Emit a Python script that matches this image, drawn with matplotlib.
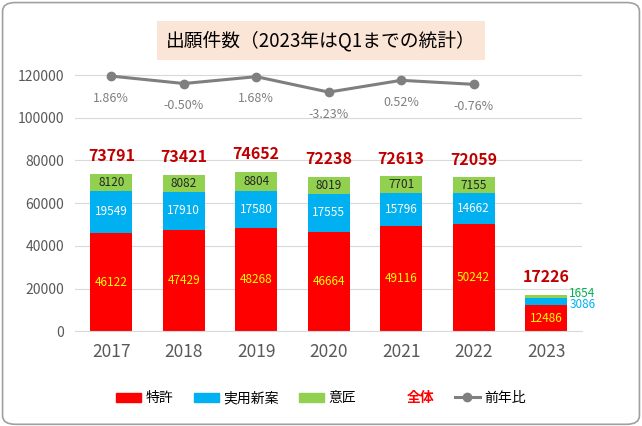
import matplotlib
matplotlib.use("Agg")
import matplotlib.pyplot as plt
from matplotlib.patches import FancyBboxPatch
from matplotlib.lines import Line2D
from matplotlib.patches import Patch

plt.rcParams['font.family'] = ['Noto Sans CJK JP', 'DejaVu Sans']

years = ['2017', '2018', '2019', '2020', '2021', '2022', '2023']
patent = [46122, 47429, 48268, 46664, 49116, 50242, 12486]
utility = [19549, 17910, 17580, 17555, 15796, 14662, 3086]
design = [8120, 8082, 8804, 8019, 7701, 7155, 1654]
total = [73791, 73421, 74652, 72238, 72613, 72059, 17226]
yoy = [1.86, -0.50, 1.68, -3.23, 0.52, -0.76]

fig = plt.figure(figsize=(6.42, 4.26), dpi=100)
fig.patches.append(FancyBboxPatch((0.004, 0.004), 0.992, 0.99, boxstyle="round,pad=0,rounding_size=0.02",
                                  transform=fig.transFigure, fc='white', ec='#a0a0a0', lw=1.2, zorder=-5))
ax = fig.add_axes([0.117, 0.222, 0.79, 0.642])
x = range(len(years))
w = 0.58
red, blue, green = '#ff0000', '#00b0f0', '#92d050'
ax.bar(x, patent, w, color=red, zorder=2)
ax.bar(x, utility, w, bottom=patent, color=blue, zorder=2)
b2 = [p + u for p, u in zip(patent, utility)]
ax.bar(x, design, w, bottom=b2, color=green, zorder=2)
ax.set_ylim(0, 128000)
ax.set_xlim(-0.5, 6.5)
ax.set_yticks(range(0, 120001, 20000))
ax.grid(axis='y', color='#d9d9d9', lw=0.8, zorder=0)
for s in ['top', 'right', 'left']:
    ax.spines[s].set_visible(False)
ax.spines['bottom'].set_color('#d9d9d9')
ax.tick_params(axis='y', length=0, labelsize=10, labelcolor='#595959', pad=8)
ax.tick_params(axis='x', length=0, labelsize=12.5, labelcolor='#595959', pad=8)
ax.set_xticks(list(x))
ax.set_xticklabels(years)

for i in range(7):
    if i < 6:
        ax.text(i, patent[i] / 2, str(patent[i]), ha='center', va='center', color='#ffff00', fontsize=8.5)
        ax.text(i, patent[i] + utility[i] / 2, str(utility[i]), ha='center', va='center', color='white', fontsize=8.5)
        ax.text(i, b2[i] + design[i] / 2, str(design[i]), ha='center', va='center', color='#262626', fontsize=8.5)
    else:
        ax.text(i, patent[i] / 2, str(patent[i]), ha='center', va='center', color='#ffff00', fontsize=8.5)
        ax.text(i + 0.32, patent[i] + utility[i] / 2 - 1500, str(utility[i]), ha='left', va='center', color='#00b0f0', fontsize=8.5)
        ax.text(i + 0.32, b2[i] + design[i] / 2 + 1500, str(design[i]), ha='left', va='center', color='#00b050', fontsize=8.5)
    ax.text(i, total[i] + 4500, str(total[i]), ha='center', va='bottom', color='#c00000', fontsize=11.5, fontweight='bold')

ax2 = ax.twinx()
ax2.set_ylim(-116760 / 1473, (128000 - 116760) / 1473)
ax2.plot(range(6), yoy, color='#7f7f7f', lw=2.2, marker='o', ms=6, zorder=3)
ax2.axis('off')
for i, v in enumerate(yoy):
    ax2.text(i, v - 7.0, f"{v:.2f}%", ha='center', va='center', color='#7f7f7f', fontsize=9)

fig.text(0.5, 0.905, "出願件数（2023年はQ1までの統計）", ha='center', va='center', fontsize=13.5, color='#000000',
         bbox=dict(boxstyle='square,pad=0.5', fc='#fbe5d6', ec='none'))

handles = [Patch(color=red), Patch(color=blue), Patch(color=green), Line2D([], [], color='none'),
           Line2D([], [], color='#7f7f7f', lw=2.2, marker='o', ms=6)]
labels = ['特許', '実用新案', '意匠', '全体', '前年比']
leg = fig.legend(handles, labels, loc='center', bbox_to_anchor=(0.5, 0.065), ncol=5, frameon=False,
                 fontsize=10, handlelength=1.8, columnspacing=1.5, handletextpad=0.3)
leg.get_texts()[3].set_color('#ff0000')
leg.get_texts()[3].set_fontweight('bold')
fig.savefig('out.png', dpi=100)
